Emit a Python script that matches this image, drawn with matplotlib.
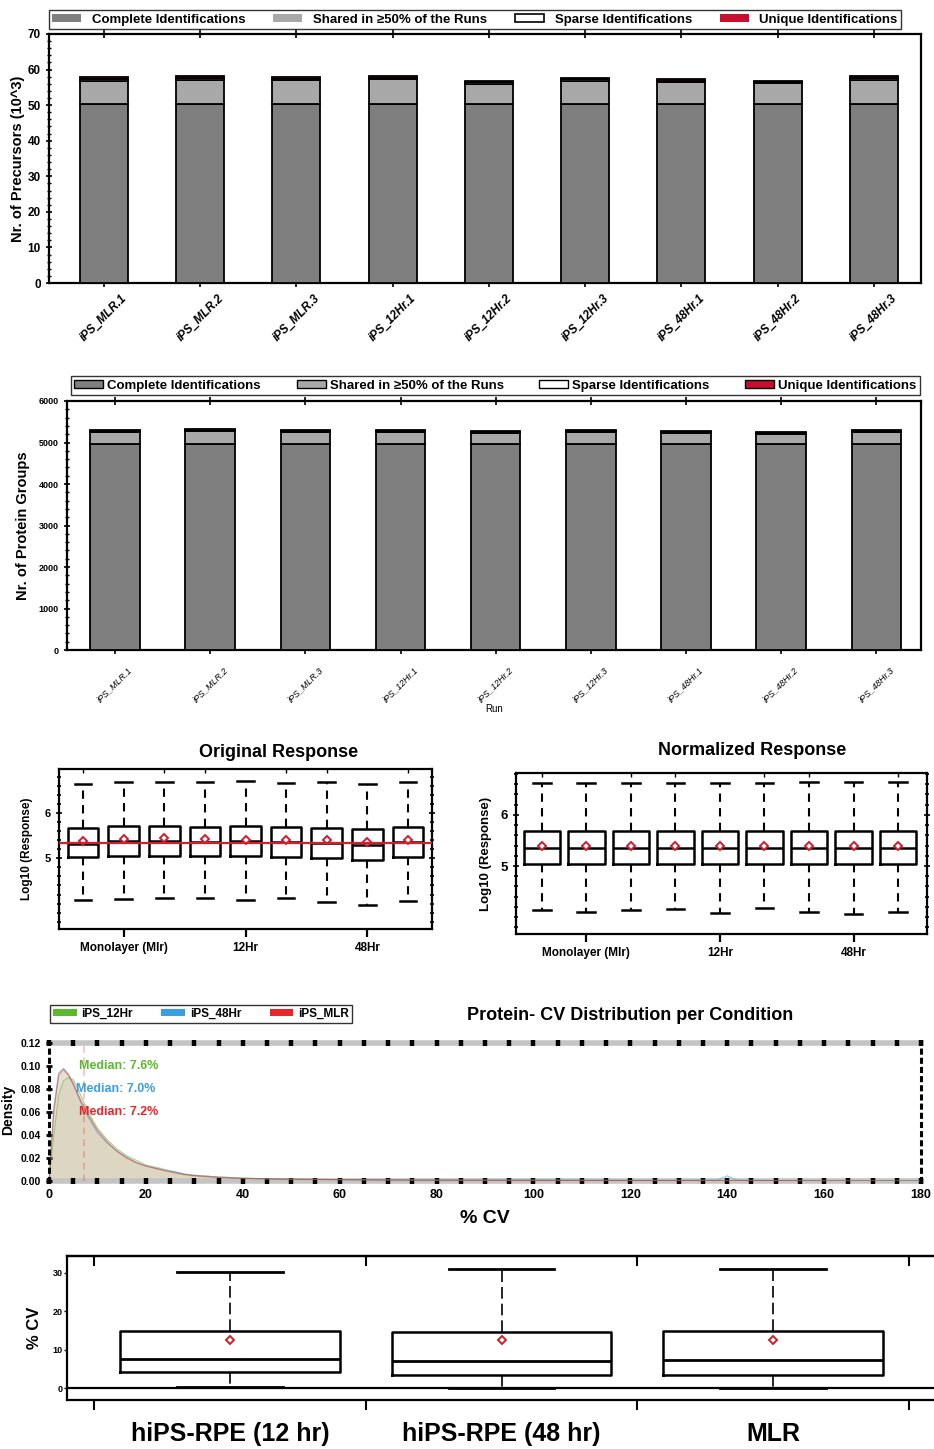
import matplotlib
matplotlib.use("Agg")
import matplotlib.pyplot as plt
from matplotlib.patches import Patch
from matplotlib.ticker import MultipleLocator, FixedLocator

plt.rcParams["font.family"] = ["Liberation Sans", "DejaVu Sans"]
plt.rcParams["font.weight"] = "bold"
plt.rcParams["axes.labelweight"] = "bold"
plt.rcParams["axes.titleweight"] = "bold"

# --- runs / identifications ---
runs = ["iPS_MLR.1", "iPS_MLR.2", "iPS_MLR.3", "iPS_12Hr.1", "iPS_12Hr.2",
        "iPS_12Hr.3", "iPS_48Hr.1", "iPS_48Hr.2", "iPS_48Hr.3"]
id_classes = ["Complete Identifications", "Shared in \u226550% of the Runs",
              "Sparse Identifications", "Unique Identifications"]

# precursors (10^3)
complete_prec = [50.2, 50.2, 50.2, 50.2, 50.2, 50.2, 50.2, 50.2, 50.2]
shared_prec = [6.7, 7.0, 6.8, 7.1, 5.8, 6.7, 6.2, 5.9, 7.0]
sparse_prec = [0.4, 0.4, 0.4, 0.4, 0.4, 0.4, 0.4, 0.4, 0.4]
unique_prec = [0.5, 0.5, 0.4, 0.5, 0.4, 0.4, 0.5, 0.4, 0.5]

# protein groups
complete_pg = [4975, 4975, 4975, 4975, 4975, 4975, 4975, 4975, 4975]
shared_pg = [270, 295, 270, 275, 255, 275, 255, 230, 275]
sparse_pg = [30, 35, 30, 30, 30, 30, 30, 30, 30]
unique_pg = [20, 20, 20, 20, 20, 20, 20, 20, 20]

# --- response boxplots (log10) ---
groups = ["Monolayer (Mlr)", "12Hr", "48Hr"]
orig_lo = [4.07, 4.11, 4.13, 4.13, 4.07, 4.13, 4.04, 3.97, 4.06]
orig_q1 = [5.02, 5.05, 5.06, 5.04, 5.04, 5.02, 5.01, 4.96, 5.02]
orig_med = [5.31, 5.385, 5.385, 5.35, 5.39, 5.35, 5.33, 5.30, 5.35]
orig_q3 = [5.67, 5.72, 5.72, 5.70, 5.72, 5.68, 5.67, 5.64, 5.69]
orig_hi = [6.64, 6.69, 6.69, 6.69, 6.71, 6.67, 6.69, 6.64, 6.69]
orig_mean = [5.385, 5.42, 5.44, 5.42, 5.41, 5.40, 5.40, 5.35, 5.41]
orig_ref = 5.34

norm_lo = [4.14, 4.11, 4.14, 4.16, 4.08, 4.18, 4.10, 4.07, 4.10]
norm_q1 = [5.04, 5.04, 5.04, 5.04, 5.04, 5.04, 5.04, 5.04, 5.04]
norm_med = [5.35, 5.35, 5.35, 5.35, 5.35, 5.35, 5.35, 5.35, 5.35]
norm_q3 = [5.69, 5.69, 5.69, 5.69, 5.69, 5.69, 5.69, 5.69, 5.69]
norm_hi = [6.62, 6.62, 6.62, 6.63, 6.63, 6.62, 6.65, 6.65, 6.65]
norm_mean = [5.40, 5.40, 5.40, 5.40, 5.40, 5.40, 5.40, 5.40, 5.40]

# --- CV density per condition ---
conditions = ["iPS_12Hr", "iPS_48Hr", "iPS_MLR"]
cond_colors = ["#5cb82e", "#3a9fe0", "#e8262a"]
cv_medians = [7.6, 7.0, 7.2]
cv_x = [0, 1, 2, 3, 4, 5, 6, 7, 8, 9, 10, 12, 14, 16, 18, 20, 22, 24, 26, 28,
        30, 35, 40, 45, 50, 60, 70, 80, 100, 120, 138, 140, 142, 150, 160, 180]
dens_12hr = [0.0, 0.040, 0.075, 0.087, 0.090, 0.088, 0.080, 0.070, 0.061, 0.053,
             0.046, 0.036, 0.028, 0.022, 0.018, 0.014, 0.012, 0.010, 0.008, 0.006,
             0.005, 0.0035, 0.0025, 0.002, 0.0017, 0.0013, 0.001, 0.0008, 0.0006,
             0.0004, 0.0003, 0.0003, 0.0003, 0.0002, 0.0001, 0.0]
dens_48hr = [0.0, 0.065, 0.094, 0.098, 0.093, 0.085, 0.074, 0.064, 0.056, 0.049,
             0.042, 0.033, 0.026, 0.021, 0.016, 0.013, 0.011, 0.009, 0.008, 0.006,
             0.005, 0.0035, 0.0025, 0.0018, 0.0015, 0.0011, 0.0009, 0.0007, 0.0009,
             0.0005, 0.0008, 0.0045, 0.0008, 0.0003, 0.0001, 0.0]
dens_mlr = [0.0, 0.060, 0.092, 0.097, 0.092, 0.084, 0.075, 0.066, 0.058, 0.051,
            0.044, 0.034, 0.026, 0.020, 0.016, 0.013, 0.011, 0.009, 0.007, 0.0055,
            0.0045, 0.003, 0.0022, 0.0018, 0.0015, 0.0012, 0.0009, 0.0007, 0.0005,
            0.0004, 0.0003, 0.0003, 0.0003, 0.0004, 0.0001, 0.0]

# --- CV boxplot ---
cv_groups = ["hiPS-RPE (12 hr)", "hiPS-RPE (48 hr)", "MLR"]
cv_lo = [0.2, 0.0, 0.0]
cv_q1 = [4.1, 3.5, 3.5]
cv_q3 = [14.8, 14.6, 14.8]
cv_hi = [30.2, 31.0, 31.0]
cv_mean = [12.6, 12.6, 12.6]

W, H = 934, 1449
fig = plt.figure(figsize=(W / 100, H / 100), dpi=100)


def px_axes(l, t, r, b):
    return fig.add_axes([l / W, 1 - b / H, (r - l) / W, (b - t) / H])


def px_box(l, t, r, b):
    return (l / W, 1 - b / H, (r - l) / W, (b - t) / H)


seg_colors = ["#7f7f7f", "#a8a8a8", "white", "#c8102e"]
mean_red = "#d01c2a"


def stacked(ax, segs, width):
    bottom = [0] * len(runs)
    for vals, col in zip(segs, seg_colors):
        ax.bar(range(len(runs)), vals, width=width, bottom=bottom, color=col,
               edgecolor="black", linewidth=1.3, zorder=3)
        bottom = [b + v for b, v in zip(bottom, vals)]


# ===== precursors =====
ax1 = px_axes(49, 34, 921, 283)
stacked(ax1, [complete_prec, shared_prec, sparse_prec, unique_prec], 0.5)
ax1.set_xlim(-0.57, 8.49)
ax1.set_ylim(0, 70)
ax1.yaxis.set_major_locator(MultipleLocator(10))
ax1.yaxis.set_minor_locator(MultipleLocator(2))
ax1.set_xticks(range(len(runs)))
ax1.set_xticklabels(runs, rotation=45, ha="center", va="top", fontsize=8.5,
                    style="italic")
ax1.tick_params(axis="x", top=True, direction="inout", length=6, width=1.2)
ax1.tick_params(axis="y", direction="inout", length=5, width=1.2, labelsize=8.5)
ax1.tick_params(axis="y", which="minor", direction="inout", length=3, width=1)
ax1.set_ylabel("Nr. of Precursors (10^3)", fontsize=10.5, labelpad=2)
for s in ax1.spines.values():
    s.set_linewidth(1.6)
h1 = [Patch(facecolor=seg_colors[0], edgecolor="none"),
      Patch(facecolor=seg_colors[1], edgecolor="none"),
      Patch(facecolor="white", edgecolor="black", linewidth=1.2),
      Patch(facecolor=seg_colors[3], edgecolor="none")]
fig.legend(h1, id_classes, loc="lower left", bbox_to_anchor=px_box(49, 6, 901, 29),
           mode="expand", ncol=4, frameon=True, fancybox=False, edgecolor="black",
           borderaxespad=0, fontsize=9.5, handlelength=2.2, handleheight=0.5,
           borderpad=0.25, handletextpad=0.8)

# ===== protein groups =====
ax2 = px_axes(67, 401, 921, 650)
stacked(ax2, [complete_pg, shared_pg, sparse_pg, unique_pg], 0.52)
ax2.set_xlim(-0.505, 8.47)
ax2.set_ylim(0, 6000)
ax2.yaxis.set_major_locator(MultipleLocator(1000))
ax2.yaxis.set_minor_locator(MultipleLocator(200))
ax2.set_xticks(range(len(runs)))
ax2.set_xticklabels(runs, rotation=45, ha="center", va="top", fontsize=6.5,
                    style="italic", fontweight="normal")
ax2.tick_params(axis="x", top=True, direction="inout", length=6, width=1.2, pad=8)
ax2.tick_params(axis="y", direction="inout", length=5, width=1.2, labelsize=6.5)
ax2.tick_params(axis="y", which="minor", direction="inout", length=3, width=1)
ax2.set_ylabel("Nr. of Protein Groups", fontsize=10.5, labelpad=6)
ax2.set_xlabel("Run", fontsize=7, fontweight="normal", labelpad=0)
for s in ax2.spines.values():
    s.set_linewidth(1.6)
h2 = [Patch(facecolor=seg_colors[0], edgecolor="black", linewidth=1.0),
      Patch(facecolor=seg_colors[1], edgecolor="black", linewidth=1.0),
      Patch(facecolor="white", edgecolor="black", linewidth=1.0),
      Patch(facecolor=seg_colors[3], edgecolor="black", linewidth=1.0)]
fig.legend(h2, id_classes, loc="lower left", bbox_to_anchor=px_box(71, 373, 920, 395),
           mode="expand", ncol=4, frameon=True, fancybox=False, edgecolor="black",
           borderaxespad=0, fontsize=9.5, handlelength=2.2, handleheight=0.5,
           borderpad=0.25, handletextpad=0.3)


# ===== response boxplots =====
def response_box(ax, lo, q1, med, q3, hi, mean, width, capw):
    stats = [dict(whislo=a, q1=b, med=c, q3=d, whishi=e, mean=f)
             for a, b, c, d, e, f in zip(lo, q1, med, q3, hi, mean)]
    ax.bxp(stats, positions=range(1, len(stats) + 1), widths=width, capwidths=capw,
           showmeans=True, showfliers=False, manage_ticks=False,
           boxprops=dict(linewidth=1.8, color="black"),
           whiskerprops=dict(linewidth=1.5, linestyle=(0, (4, 3)), color="black"),
           capprops=dict(linewidth=1.8, color="black"),
           medianprops=dict(linewidth=1.8, color="black"),
           meanprops=dict(marker="D", markerfacecolor="white", markeredgecolor=mean_red,
                          markersize=4.5, markeredgewidth=1.4))
    ax.set_xticks([2, 5, 8])
    ax.set_xticklabels(groups, fontsize=8.5)
    ax.xaxis.set_minor_locator(FixedLocator(range(1, 10)))
    ax.tick_params(axis="x", which="major", bottom=True, top=False, direction="out",
                   length=6, width=1.6)
    ax.tick_params(axis="x", which="minor", bottom=False, top=True, direction="in",
                   length=3, width=1)
    ax.yaxis.set_major_locator(FixedLocator([5, 6]))
    ax.yaxis.set_minor_locator(MultipleLocator(0.2))
    ax.tick_params(axis="y", which="both", left=True, right=True, direction="inout",
                   width=1.2)
    ax.tick_params(axis="y", which="major", length=5)
    ax.tick_params(axis="y", which="minor", length=3)
    for s in ax.spines.values():
        s.set_linewidth(1.6)


ax3 = px_axes(59, 769, 432, 929)
response_box(ax3, orig_lo, orig_q1, orig_med, orig_q3, orig_hi, orig_mean, 0.755, 0.41)
ax3.axhline(orig_ref, color="#d0202e", linewidth=1.6, zorder=4)
ax3.set_xlim(0.41, 9.59)
ax3.set_ylim(3.44, 6.97)
ax3.tick_params(axis="y", labelsize=8)
ax3.set_ylabel("Log10 (Response)", fontsize=8.5, labelpad=8)
fig.text(279 / W, 1 - 753 / H, "Original Response", fontsize=13, ha="center",
         va="center")

ax4 = px_axes(516, 773, 927, 934)
response_box(ax4, norm_lo, norm_q1, norm_med, norm_q3, norm_hi, norm_mean, 0.82, 0.4)
ax4.set_xlim(0.42, 9.65)
ax4.set_ylim(3.67, 6.82)
ax4.tick_params(axis="y", labelsize=9.5)
ax4.set_ylabel("Log10 (Response)", fontsize=9.5, labelpad=6)
fig.text(752 / W, 1 - 751 / H, "Normalized Response", fontsize=13, ha="center",
         va="center")

# ===== CV density =====
ax5 = px_axes(49, 1043, 921, 1181)
for dens, col in zip([dens_12hr, dens_48hr, dens_mlr], cond_colors):
    ax5.fill_between(cv_x, dens, color="#cbbf9f", alpha=0.28, linewidth=0)
    ax5.plot(cv_x, dens, color=col, linewidth=0.8, alpha=0.55)
ax5.axvline(cv_medians[2], color="#e8262a", alpha=0.3, linestyle=(0, (4, 3)),
            linewidth=1.2)
label_y = [0.100, 0.080, 0.060]
for med, col, yy in zip(cv_medians, cond_colors, label_y):
    ax5.text(5.6 if med == 7.0 else 6.1, yy, f"Median: {med:.1f}%", color=col,
             fontsize=9, va="center")
ax5.set_xlim(0, 180)
ax5.set_ylim(0, 0.12)
ax5.xaxis.set_major_locator(MultipleLocator(20))
ax5.xaxis.set_minor_locator(MultipleLocator(5))
ax5.yaxis.set_major_locator(MultipleLocator(0.02))
ax5.yaxis.set_major_formatter("{x:.2f}")
ax5.tick_params(axis="x", which="both", top=True, bottom=True, direction="inout",
                length=5, width=3.2, color="black", labelsize=9)
ax5.tick_params(axis="y", direction="inout", length=4, width=2, labelsize=7.5)
for side in ["top", "bottom"]:
    ax5.spines[side].set_color("#c4c4c4")
    ax5.spines[side].set_linewidth(4)
    ax5.spines[side].set_zorder(1)
for side in ["left", "right"]:
    ax5.spines[side].set_linestyle((0, (1, 2)))
    ax5.spines[side].set_linewidth(2.2)
ax5.set_xlabel("% CV", fontsize=14, labelpad=6)
fig.text(8 / W, 1 - 1110 / H, "Density", rotation=90, fontsize=10, ha="center",
         va="center")
fig.text(630 / W, 1 - 1015 / H, "Protein- CV Distribution per Condition",
         fontsize=13, ha="center", va="center")
h5 = [Patch(facecolor=c, edgecolor="none") for c in cond_colors]
fig.legend(h5, conditions, loc="lower left", bbox_to_anchor=px_box(50, 1003, 352, 1023),
           mode="expand", ncol=3, frameon=True, fancybox=False, edgecolor="black",
           borderaxespad=0, fontsize=8.5, handlelength=2.0, handleheight=0.5,
           borderpad=0.25, handletextpad=0.4, columnspacing=0.5)

# ===== CV boxplot =====
ax6 = px_axes(67, 1256, 936, 1400)
cv_stats = [dict(whislo=a, q1=b, med=c, q3=d, whishi=e, mean=f)
            for a, b, c, d, e, f in zip(cv_lo, cv_q1, cv_medians, cv_q3, cv_hi, cv_mean)]
ax6.bxp(cv_stats, positions=[1, 2, 3], widths=0.81, capwidths=0.39,
        showmeans=True, showfliers=False, manage_ticks=False,
        boxprops=dict(linewidth=1.8, color="black"),
        whiskerprops=dict(linewidth=1.2, linestyle=(0, (7, 3)), color="black"),
        capprops=dict(linewidth=2.0, color="black"),
        medianprops=dict(linewidth=2.0, color="black"),
        meanprops=dict(marker="D", markerfacecolor="white", markeredgecolor=mean_red,
                       markersize=4.5, markeredgewidth=1.4))
ax6.axhline(0, color="black", linewidth=1.6, zorder=1)
ax6.set_xlim(0.4, 3.6)
ax6.set_ylim(-3.1, 34.3)
ax6.set_xticks([0.5, 1.5, 2.5, 3.5])
ax6.set_xticklabels([])
ax6.set_xticks([1, 2, 3], minor=True)
ax6.set_xticklabels(cv_groups, minor=True, fontsize=18)
ax6.tick_params(axis="x", which="minor", length=0, pad=16)
ax6.tick_params(axis="x", which="major", bottom=True, direction="out",
                length=7, width=1.5)
top6 = ax6.secondary_xaxis("top")
top6.set_xticks([0.5, 1.5, 2.5, 3.5])
top6.set_xticklabels([])
top6.tick_params(axis="x", direction="in", length=7, width=1.5)
top6.spines["top"].set_linewidth(1.6)
ax6.set_yticks([0, 10, 20, 30])
ax6.tick_params(axis="y", direction="out", length=2, width=1, labelsize=6.5, pad=1)
ax6.set_ylabel("% CV", fontsize=12, labelpad=8)
for s in ax6.spines.values():
    s.set_linewidth(1.6)

fig.savefig("out.png", dpi=100)
